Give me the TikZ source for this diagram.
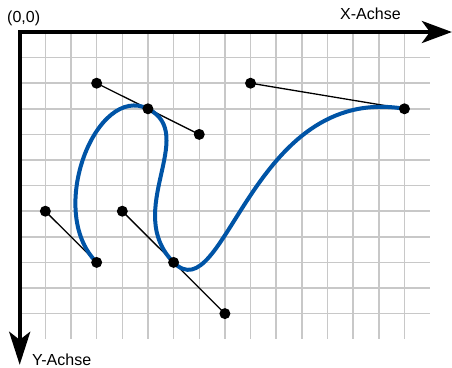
\documentclass[tikz,border=0pt]{standalone}
\usepackage{fontspec}
\setmainfont{Liberation Sans}
\usetikzlibrary{arrows.meta,backgrounds}
\definecolor{curveblue}{RGB}{0,84,166}
\definecolor{gridgray}{RGB}{200,200,200}
\tikzset{
  gridline/.style={draw=gridgray, line width=1.5pt},
  axisline/.style={line width=4pt, line join=miter, line cap=butt},
  dot/.style={circle, fill=black, inner sep=0pt, minimum size=11pt},
  tangent/.style={draw=black, line width=1.3pt},
  curvepath/.style={draw=curveblue, line width=4pt},
  lbl/.style={font=\fontsize{16}{19}\selectfont, inner sep=0pt},
}
\begin{document}
\begin{tikzpicture}[x=1pt,y=-1pt]
\useasboundingbox (0,0) rectangle (452,367);
\node[lbl, anchor=base west] (origin) at (7,22.7) {(0,0)};
\node[lbl, anchor=base west] (xlabel) at (340,19.3) {X-Achse};
\node[lbl, anchor=base west] (ylabel) at (32,365) {Y-Achse};
\begin{scope}[shift={(19.7pt,-32pt)}, x=25.65pt, y=-25.6pt]
  % points
  \node[dot] (a) at (3,2) {};
  \node[dot] (b) at (5,3) {};
  \node[dot] (c) at (7,4) {};
  \node[dot] (d) at (9,2) {};
  \node[dot] (e) at (15,3) {};
  \node[dot] (f) at (1,7) {};
  \node[dot] (g) at (3,9) {};
  \node[dot] (h) at (4,7) {};
  \node[dot] (k) at (6,9) {};
  \node[dot] (m) at (8,11) {};
  \begin{scope}[on background layer]
    % grid
    \foreach \i in {1,...,15} \draw[gridline] (\i,0) -- (\i,12);
    \foreach \j in {1,...,11} \draw[gridline] (0,\j) -- (16,\j);
    % axes
    \coordinate (O) at (0,0);
    \coordinate (xend) at (16.85,0);
    \coordinate (yend) at (0,13.0);
    \draw[axisline, {Stealth[length=30pt,width=22pt,inset=8pt]}-{Stealth[length=33pt,width=21pt,inset=8pt]}] (xend) -- (O) -- (yend);
    % tangents
    \draw[tangent] (a.center) -- (c.center);
    \draw[tangent] (d.center) -- (e.center);
    \draw[tangent] (f.center) -- (g.center);
    \draw[tangent] (h.center) -- (m.center);
    % curve
    \draw[curvepath] (g.center) .. controls (f.center) and (a.center) .. (b.center)
       .. controls (c.center) and (h.center) .. (k.center)
       .. controls (m.center) and (d.center) .. (e.center);
  \end{scope}
\end{scope}
\end{tikzpicture}
\end{document}
